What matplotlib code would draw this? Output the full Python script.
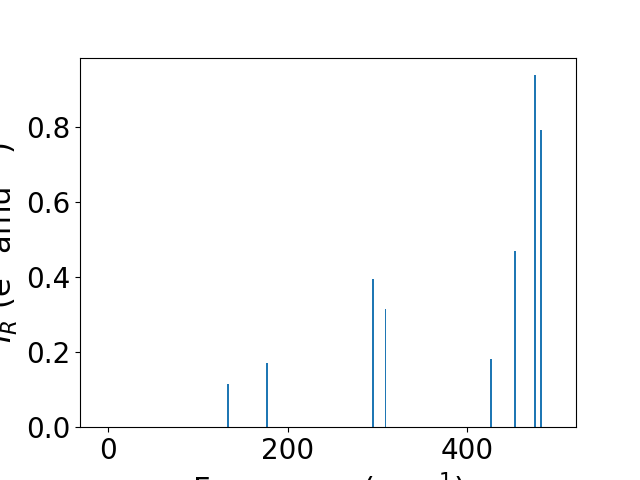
import matplotlib
matplotlib.use("Agg")
import matplotlib.pyplot as plt

# IR spectrum: mode frequencies (cm^-1) and intensities
frequencies = [133.9, 177.2, 295.0, 308.9, 426.1, 452.8, 475.0, 481.3]
intensities = [0.115, 0.171, 0.395, 0.315, 0.181, 0.469, 0.939, 0.792]

plt.rcParams["font.size"] = 20

fig, ax = plt.subplots(figsize=(6.4, 4.8), dpi=100)
ax.bar(frequencies, intensities, width=2, color="C0")
ax.set_xlim(-30.6, 520.6)
ax.set_xticks([0, 200, 400])
ax.set_yticks([0.0, 0.2, 0.4, 0.6, 0.8])
ax.set_xlabel("Frequency (cm$^{-1}$)", fontsize=22)
ax.set_ylabel("$I_R$ (e$^2$ amu$^{-1}$)", fontsize=22)

fig.savefig("out.png")
